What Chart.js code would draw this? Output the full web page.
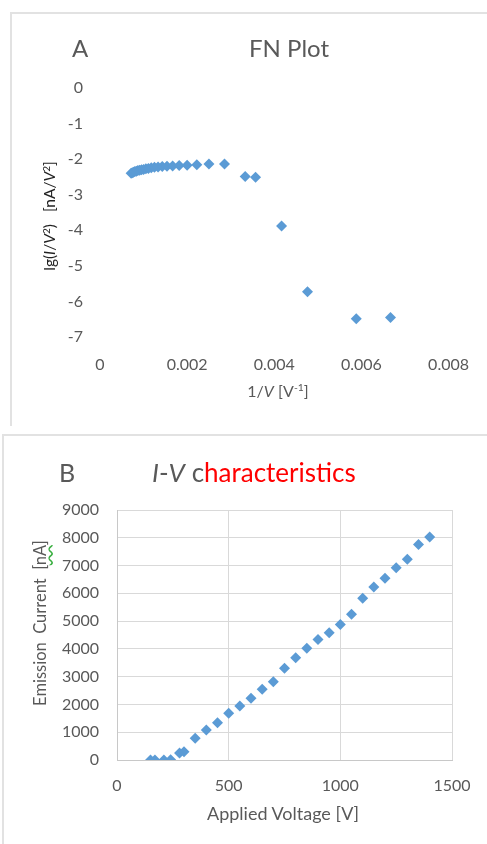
<!DOCTYPE html>
<html>
<head>
<meta charset="utf-8">
<script src="https://cdn.jsdelivr.net/npm/chart.js@4.4.1/dist/chart.umd.min.js"></script>
<style>
  html, body { margin: 0; padding: 0; background: #fff; }
  body { width: 487px; height: 844px; position: relative; overflow: hidden; font-family: Lato, sans-serif; color: #595959; }
  .frame { position: absolute; border-top: 2px solid #e2e2e2; border-left: 2px solid #e2e2e2; }
  .txt { position: absolute; white-space: nowrap; line-height: 1; }
  .rot { transform: translate(-50%, -50%) rotate(-90deg); }
  canvas { position: absolute; left: 0; }
  sup { font-size: 65%; vertical-align: 0.55em; line-height: 0; }
  .spell { text-decoration: underline wavy #3cb043; text-underline-offset: 2px; }
</style>
</head>
<body>
<div class="frame" style="left:10px; top:12px; width:490px; height:412px; border-bottom:0;"></div>
<div class="frame" style="left:2px; top:434px; width:490px; height:420px;"></div>

<canvas id="fn" width="487" height="430" style="top:0"></canvas>
<canvas id="iv" width="487" height="410" style="top:434px"></canvas>

<div class="txt" style="left:72px; top:36px; font-size:24px;">A</div>
<div class="txt" style="left:249px; top:36px; font-size:24px;">FN Plot</div>
<div class="txt rot" style="left:50px; top:216px; font-size:15.5px; color:#222;">lg(<i>I</i>/<i>V</i><sup>2</sup>)&nbsp;&nbsp;&nbsp;[nA/<i>V</i><sup>2</sup>]</div>
<div class="txt" style="left:278px; top:391px; transform:translate(-50%,-50%); font-size:16px;">1/<i>V</i> [V<sup>-1</sup>]</div>

<div class="txt" style="left:59px; top:460px; font-size:25px;">B</div>
<div class="txt" style="left:152px; top:459px; font-size:26px;"><i>I</i>-<i>V</i> c<span style="color:#ff0000">haracteristics</span></div>
<div class="txt rot" style="left:40px; top:623px; font-size:16.5px;">Emission&nbsp; Current&nbsp; [<span class="spell">nA</span>]</div>
<div class="txt" style="left:283px; top:813px; transform:translate(-50%,-50%); font-size:18px;">Applied Voltage [V]</div>

<script>
// Fowler-Nordheim plot: 1/V [1/V] against lg(I/V^2)
const fnInvV = [0.000714, 0.000741, 0.000769, 0.0008, 0.000833, 0.00087, 0.000909,
  0.000952, 0.001, 0.001053, 0.001111, 0.001176, 0.00125, 0.001333, 0.001429,
  0.001538, 0.001667, 0.001818, 0.002, 0.002222, 0.0025, 0.002857, 0.003333,
  0.003571, 0.004167, 0.004762, 0.005882, 0.006667];
const fnLgIV2 = [-2.40, -2.38, -2.37, -2.35, -2.34, -2.32, -2.31, -2.30, -2.29,
  -2.27, -2.26, -2.24, -2.23, -2.22, -2.21, -2.20, -2.19, -2.18, -2.17, -2.16,
  -2.14, -2.14, -2.49, -2.51, -3.88, -5.73, -6.49, -6.45];
const fnXTicks = [0, 0.002, 0.004, 0.006, 0.008];

// I-V characteristics: applied voltage [V] and emission current [nA]
const voltage = [150, 170, 210, 240, 280, 300, 350, 400, 450, 500, 550, 600, 650,
  700, 750, 800, 850, 900, 950, 1000, 1050, 1100, 1150, 1200, 1250, 1300, 1350, 1400];
const current = [0, 0, 0, 10, 250, 300, 780, 1080, 1340, 1680, 1940, 2220, 2550,
  2820, 3300, 3680, 4020, 4340, 4580, 4880, 5250, 5820, 6230, 6540, 6920, 7230, 7760, 8030];

var blue = '#5b9bd5'
var tickGrey = '#595959'
var gridGrey = '#d9d9d9'
var font = { family: 'Lato, sans-serif', size: 16 }

function points(xs, ys) {
  return xs.map(function (x, i) { return { x: x, y: ys[i] } })
}

function diamonds(data) {
  return {
    data: data,
    pointStyle: 'rectRot',
    pointRadius: 5.5,
    borderWidth: 0,
    backgroundColor: blue,
    borderColor: blue,
    showLine: false
  }
}

var common = {
  responsive: false,
  animation: false,
  plugins: { legend: { display: false }, tooltip: { enabled: false } }
}

// chart area of the FN plot: x 100..457, y 88..337
new Chart(document.getElementById('fn'), {
  type: 'scatter',
  data: { datasets: [diamonds(points(fnInvV, fnLgIV2))] },
  options: Object.assign({}, common, {
    layout: { padding: { left: 0, top: 88, right: 30, bottom: 53 } },
    scales: {
      x: {
        type: 'linear', min: 0, max: 0.008,
        afterBuildTicks: function (s) { s.ticks = fnXTicks.map(function (v) { return { value: v } }) },
        afterFit: function (s) { s.height = 40 },
        grid: { display: false, drawTicks: false },
        border: { display: false },
        ticks: { color: tickGrey, font: font, padding: 18, maxRotation: 0,
          callback: function (v) { return String(+v.toFixed(3)) } }
      },
      y: {
        min: -7, max: 0,
        afterFit: function (s) { s.width = 100 },
        grid: { display: false, drawTicks: false },
        border: { display: false },
        ticks: { color: tickGrey, font: font, padding: 17, stepSize: 1 }
      }
    }
  })
})

// chart area of the I-V plot: x 117..452, y 76..326 (canvas coords)
new Chart(document.getElementById('iv'), {
  type: 'scatter',
  data: { datasets: [diamonds(points(voltage, current))] },
  options: Object.assign({}, common, {
    layout: { padding: { left: 0, top: 76, right: 35, bottom: 44 } },
    scales: {
      x: {
        type: 'linear', min: 0, max: 1500,
        afterFit: function (s) { s.height = 40 },
        grid: { color: gridGrey, drawTicks: false },
        border: { color: '#c8c8c8' },
        ticks: { color: tickGrey, font: font, padding: 16, stepSize: 500, maxRotation: 0,
          callback: function (v) { return v } }
      },
      y: {
        min: 0, max: 9000,
        afterFit: function (s) { s.width = 117 },
        grid: { color: gridGrey, drawTicks: false },
        border: { color: '#c8c8c8' },
        ticks: { color: tickGrey, font: font, padding: 18, stepSize: 1000,
          callback: function (v) { return v } }
      }
    }
  })
})
</script>
</body>
</html>
